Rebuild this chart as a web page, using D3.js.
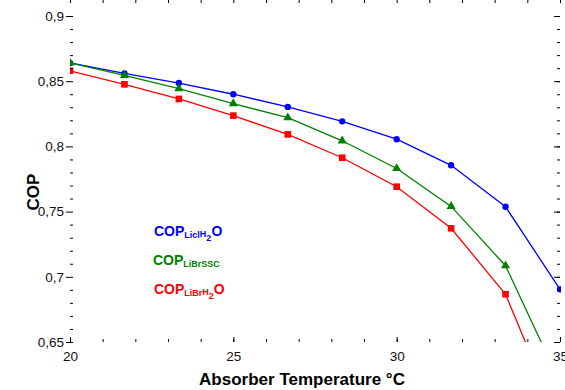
<!DOCTYPE html>
<html>
<head>
<meta charset="utf-8">
<script src="https://cdn.jsdelivr.net/npm/d3@7"></script>
<style>
  body { margin: 0; background: #fff; }
  svg { font-family: "Liberation Sans", Arial, sans-serif; }
</style>
</head>
<body>
<svg id="svg1" width="565" height="390"></svg>
<script>
// temperatures de l'absorbeur (°C)
var temperatures = [20, 21.667, 23.333, 25, 26.667, 28.333, 30, 31.667, 33.333, 35];
// COP pour chaque solution
var copLiCl   = [0.864, 0.856, 0.8486, 0.840, 0.8303, 0.8192, 0.8055, 0.7855, 0.7537, 0.6904];
var copLiBrSSC = [0.864, 0.8545, 0.8443, 0.8328, 0.822, 0.8043, 0.7831, 0.754, 0.7085, 0.619];
var copLiBr   = [0.858, 0.8476, 0.8364, 0.8236, 0.8092, 0.7913, 0.7691, 0.7372, 0.6866, 0.586];
// graduations
var xMajor = [20, 25, 30, 35];
var yMajor = [0.65, 0.7, 0.75, 0.8, 0.85, 0.9];

var margin = {top: 16, right: 5, bottom: 48, left: 70};
var width = 565, height = 390;
var svg = d3.select("#svg1");

var xScale = d3.scaleLinear().domain([20, 35]).range([margin.left, width - margin.right]);
var yScale = d3.scaleLinear().domain([0.65, 0.9]).range([height - margin.bottom, margin.top]);

var xMinor = d3.range(20, 35.01, 1);
var yMinor = d3.range(0, 26).map(i => +(0.65 + i * 0.01).toFixed(2));
var fmt = d => String(d).replace(".", ",");

// zone de découpe pour les courbes qui sortent du cadre
svg.append("clipPath").attr("id", "clip")
    .append("rect")
    .attr("x", margin.left).attr("y", margin.top)
    .attr("width", xScale(35) - xScale(20) + 1)
    .attr("height", yScale(0.65) - yScale(0.9));

var series = [
    {name: "LiCl", values: copLiCl, color: "#0000ff", symbol: d3.symbolCircle, size: 32},
    {name: "LiBrSSC", values: copLiBrSSC, color: "#008000", symbol: d3.symbolTriangle, size: 36},
    {name: "LiBr", values: copLiBr, color: "#ff0000", symbol: d3.symbolSquare, size: 44}
];

var line = d3.line()
    .x((d, i) => xScale(temperatures[i]))
    .y(d => yScale(d));

var plot = svg.append("g").attr("clip-path", "url(#clip)");

series.forEach(function(s) {
    plot.append("path")
        .attr("d", line(s.values))
        .attr("fill", "none")
        .attr("stroke", s.color)
        .attr("stroke-width", 1.3);
    plot.selectAll(null)
        .data(s.values)
        .enter()
        .append("path")
        .attr("d", d3.symbol().type(s.symbol).size(s.size))
        .attr("transform", (d, i) => `translate(${xScale(temperatures[i])}, ${yScale(d)})`)
        .attr("fill", s.color);
});

// axes
var bottom = yScale(0.65), top = yScale(0.9), left = xScale(20), right = xScale(35);

function styleAxis(g) {
    g.select(".domain").remove();
    g.selectAll("line").attr("stroke", "#000").attr("stroke-width", 1);
    g.selectAll("text").attr("fill", "#111").style("font-size", "13.5px");
}

// bas
svg.append("g").attr("transform", `translate(0, ${bottom})`)
    .call(d3.axisBottom(xScale).tickValues(xMinor).tickSize(-3).tickFormat(""))
    .call(styleAxis);
svg.append("g").attr("transform", `translate(0, ${bottom})`)
    .call(d3.axisBottom(xScale).tickValues(xMajor).tickSizeInner(-5).tickSizeOuter(0).tickPadding(9).tickFormat(fmt))
    .call(styleAxis);
// haut
svg.append("g").attr("transform", `translate(0, ${top})`)
    .call(d3.axisTop(xScale).tickValues(xMinor).tickSize(-3).tickFormat(""))
    .call(styleAxis);
// gauche
svg.append("g").attr("transform", `translate(${left}, 0)`)
    .call(d3.axisLeft(yScale).tickValues(yMinor).tickSize(-3).tickFormat(""))
    .call(styleAxis);
svg.append("g").attr("transform", `translate(${left}, 0)`)
    .call(d3.axisLeft(yScale).tickValues(yMajor).tickSizeInner(4).tickSizeOuter(0).tickPadding(2).tickFormat(fmt))
    .call(styleAxis);
// droite
svg.append("g").attr("transform", `translate(${right}, 0)`)
    .call(d3.axisRight(yScale).tickValues(yMinor).tickSize(-3).tickFormat(""))
    .call(styleAxis);
svg.append("g").attr("transform", `translate(${right}, 0)`)
    .call(d3.axisRight(yScale).tickValues(yMajor).tickSize(-6).tickFormat(""))
    .call(styleAxis);

// cadre
svg.append("rect")
    .attr("x", left).attr("y", top)
    .attr("width", right - left).attr("height", bottom - top)
    .attr("fill", "none").attr("stroke", "#000").attr("stroke-width", 1.8);

// titres des axes
svg.append("text")
    .attr("x", 302).attr("y", 385)
    .attr("text-anchor", "middle")
    .style("font-size", "17px").style("font-weight", "bold")
    .text("Absorber Temperature °C");

svg.append("text")
    .attr("transform", "translate(39, 192) rotate(-90)")
    .attr("text-anchor", "middle")
    .style("font-size", "17px").style("font-weight", "bold")
    .text("COP");

// légende
var legend = [
    {y: 236, color: "#0000ff", sub: "Licl", h2o: true},
    {y: 265, color: "#008000", sub: "LiBrSSC", h2o: false},
    {y: 294, color: "#ff0000", sub: "LiBr", h2o: true}
];
legend.forEach(function(l, i) {
    var t = svg.append("text")
        .attr("x", i == 1 ? 153 : 154).attr("y", l.y)
        .attr("fill", l.color)
        .style("font-weight", "bold").style("font-size", "14px");
    t.append("tspan").text("COP");
    t.append("tspan").attr("dy", 2).style("font-size", "9px").text(l.sub);
    if (l.h2o) {
        t.append("tspan").attr("dy", -1.5).style("font-size", "9px").text("H");
        t.append("tspan").attr("dy", 4.5).style("font-size", "9px").text("2");
        t.append("tspan").attr("dy", -5).text("O");
    }
});
</script>
</body>
</html>
